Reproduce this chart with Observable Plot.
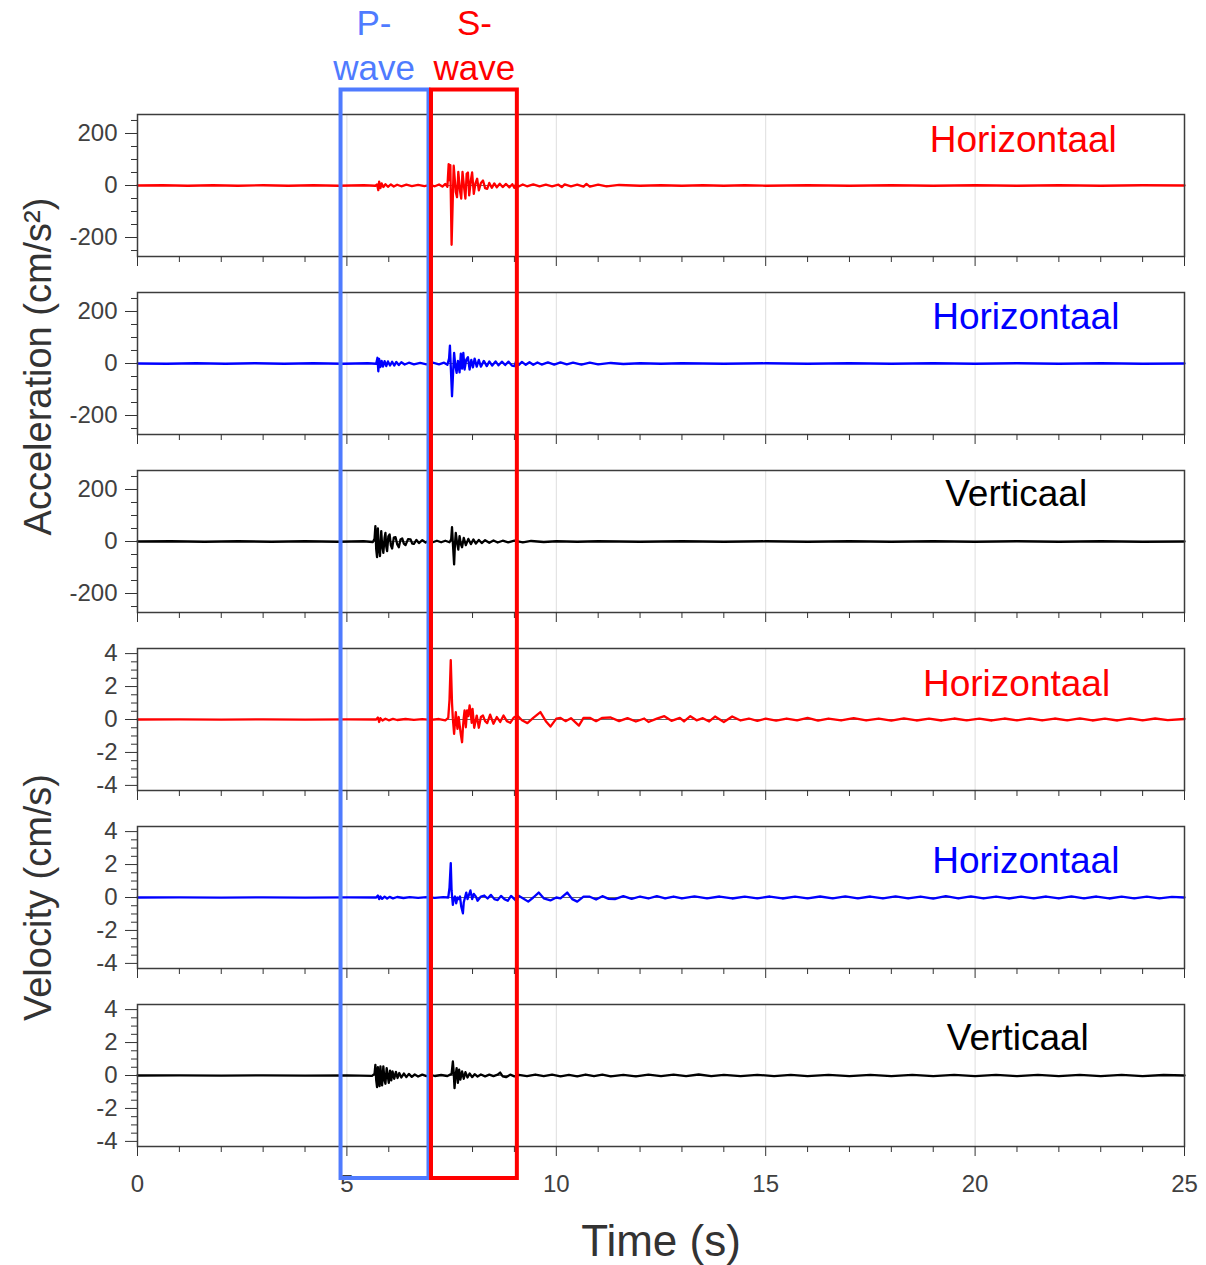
<!DOCTYPE html>
<html>
<head>
<meta charset="utf-8">
<script src="https://cdn.jsdelivr.net/npm/d3@7"></script>
<script src="https://cdn.jsdelivr.net/npm/@observablehq/plot@0.6"></script>
<style>
  body { margin: 0; background: #fff; font-family: "Liberation Sans", Arial, sans-serif; }
  #chart { position: relative; width: 1206px; height: 1265px; background: #fff; }
  #chart svg { position: absolute; left: 0; }
</style>
</head>
<body>
<div id="chart"></div>
<script>
// ---- Axis ticks ----------------------------------------------------------
const timeMajor = [0, 5, 10, 15, 20, 25];
const timeMinor = [1, 2, 3, 4, 6, 7, 8, 9, 11, 12, 13, 14, 16, 17, 18, 19, 21, 22, 23, 24];
const timeGrid = [5, 10, 15, 20];
const accMajor = [-200, 0, 200];
const accMinor = [-250, -150, -100, -50, 50, 100, 150, 250];
const velMajor = [-4, -2, 0, 2, 4];
const velMinor = [-3.5, -3, -2.5, -1.5, -1, -0.5, 0.5, 1, 1.5, 2.5, 3, 3.5];

// ---- Phase windows (s) ---------------------------------------------------
const waveWindows = [
  {phase: "P", label: "P-\nwave", start: 4.86, end: 6.96},
  {phase: "S", label: "S-\nwave", start: 7.02, end: 9.07}
];

// ---- Acceleration records [time (s), cm/s²] ------------------------------
const accH1 = [
  [0,0],[0.6,1],[1.2,-1],[1.8,1],[2.4,-1],[3.0,1],[3.6,-1],[4.2,1],[4.8,-1],[5.4,1],[5.68,-1],
  [5.72,4],[5.75,-18],[5.77,15],[5.8,-10],[5.83,8],[5.87,-6],[5.92,5],[5.98,-5],[6.05,4],[6.12,-4],
  [6.2,3],[6.3,-3],[6.42,3],[6.55,-2],[6.7,2],[6.85,-2],[7.0,2],[7.1,-3],[7.2,4],[7.28,-4],[7.35,6],[7.4,-5],
  [7.43,82],[7.45,20],[7.47,78],[7.5,-228],[7.53,-40],[7.55,76],[7.6,-25],[7.63,-45],[7.66,52],[7.7,-20],
  [7.73,-50],[7.76,52],[7.8,-10],[7.83,-50],[7.86,45],[7.89,50],[7.92,-38],[7.96,20],[7.99,50],[8.03,-32],
  [8.07,8],[8.11,26],[8.15,-19],[8.2,10],[8.25,19],[8.3,-10],[8.35,-13],[8.4,10],[8.46,-9],[8.52,8],
  [8.58,-7],[8.65,7],[8.72,-6],[8.8,6],[8.88,-7],[8.95,5],[9.0,-9],[9.04,7],[9.1,-4],[9.2,4],[9.3,-3],
  [9.45,4],[9.6,-3],[9.75,3],[9.9,-3],[10.05,3],[10.13,-6],[10.2,4],[10.35,-3],[10.5,3],[10.65,-4],
  [10.72,6],[10.8,-4],[11.0,3],[11.2,-3],[11.5,2],[12,-1],[12.5,1],[13,-1],[13.5,1],[14,-1],[14.5,1],
  [15,-1],[16,1],[17,-1],[18,1],[19,-1],[20,1],[21,-1],[22,1],[23,-1],[24,1],[25,0]
];
const accH2 = [
  [0,0],[0.7,-1],[1.4,1],[2.1,-1],[2.8,1],[3.5,-1],[4.2,1],[4.9,-1],[5.5,1],[5.7,-1],
  [5.73,22],[5.75,-30],[5.77,18],[5.8,-14],[5.83,10],[5.86,-12],[5.9,9],[5.94,-10],[5.98,8],[6.03,-8],
  [6.08,7],[6.13,-8],[6.18,6],[6.24,-6],[6.3,5],[6.38,-4],[6.48,3],[6.6,-3],[6.75,2],[6.9,-3],[7.05,3],
  [7.2,-3],[7.32,3],[7.4,-5],
  [7.44,20],[7.46,69],[7.48,-10],[7.51,-126],[7.54,-20],[7.56,41],[7.59,-10],[7.62,-36],[7.65,10],
  [7.69,-34],[7.72,38],[7.75,-20],[7.78,41],[7.81,-23],[7.85,15],[7.89,24],[7.93,-23],[7.97,14],
  [8.01,-15],[8.05,19],[8.1,-12],[8.15,14],[8.2,-12],[8.27,10],[8.34,-10],[8.4,8],[8.47,-8],[8.55,8],
  [8.62,-7],[8.7,7],[8.78,-6],[8.86,7],[8.94,-8],[9.0,-10],[9.04,8],[9.1,-6],[9.18,6],[9.27,-5],
  [9.36,5],[9.45,-5],[9.55,4],[9.65,-4],[9.8,4],[9.95,-4],[10.1,4],[10.25,-3],[10.4,3],[10.6,-4],
  [10.8,3],[11,-3],[11.3,2],[11.6,-2],[12,1],[12.5,-1],[13,1],[14,-1],[15,1],[16,-1],[17,1],[18,-1],
  [19,1],[20,-1],[21,1],[22,-1],[23,1],[24,-1],[25,0]
];
const accV = [
  [0,0],[0.8,1],[1.6,-1],[2.4,1],[3.2,-1],[4,1],[4.8,-1],[5.4,1],[5.62,-2],
  [5.66,10],[5.68,59],[5.7,-30],[5.72,-60],[5.74,50],[5.76,-20],[5.79,-56],[5.82,40],[5.84,-10],
  [5.87,-44],[5.9,15],[5.92,33],[5.94,-20],[5.96,-37],[5.99,20],[6.02,27],[6.05,-15],[6.08,-27],
  [6.12,15],[6.16,17],[6.2,-10],[6.24,-22],[6.28,8],[6.32,12],[6.36,-8],[6.4,-14],[6.46,9],[6.52,8],
  [6.56,-8],[6.6,-9],[6.66,6],[6.72,-6],[6.8,5],[6.88,-4],[6.96,4],[7.05,-3],[7.15,3],[7.25,-3],
  [7.35,3],[7.45,-3],
  [7.49,8],[7.51,55],[7.53,-5],[7.56,-88],[7.58,-10],[7.6,33],[7.63,-5],[7.66,-31],[7.69,21],[7.72,-10],
  [7.75,-22],[7.79,14],[7.84,-14],[7.9,10],[7.96,-10],[8.02,8],[8.08,-8],[8.15,6],[8.22,-6],[8.3,5],
  [8.4,-5],[8.5,4],[8.6,-4],[8.72,3],[8.85,-3],[9,3],[9.2,-3],[9.4,2],[9.7,-2],[10,1],[10.5,-1],[11,1],
  [12,-1],[13,1],[14,-1],[15,1],[16,-1],[17,1],[18,-1],[19,1],[20,-1],[21,1],[22,-1],[23,1],[24,-1],[25,0]
];

// ---- Velocity records [time (s), cm/s] -----------------------------------
const velH1 = [
  [0,0],[1,0.01],[2,-0.01],[3,0.01],[4,-0.01],[5,0.01],[5.7,0],[5.74,0.12],[5.77,-0.15],[5.8,0.08],
  [5.85,-0.06],[5.92,0.05],[6,-0.05],[6.1,0.04],[6.2,-0.03],[6.4,0.03],[6.6,-0.02],[6.8,0.02],[7.0,-0.02],
  [7.2,0.03],[7.35,-0.05],[7.42,0.1],
  [7.45,1.2],[7.48,3.6],[7.51,1.0],[7.53,0.05],[7.56,-0.87],[7.58,-0.2],[7.6,0.45],[7.62,-0.1],
  [7.64,-0.57],[7.67,0.15],[7.69,-0.3],[7.72,-0.9],[7.75,-1.38],[7.77,-0.5],[7.79,0.1],[7.81,0.55],
  [7.84,-0.47],[7.87,0.55],[7.9,0.2],[7.93,0.85],[7.96,0.3],[7.98,-0.2],[8.0,0.65],[8.04,-0.5],
  [8.1,0.24],[8.15,-0.5],[8.2,0.15],[8.25,0.24],[8.3,-0.1],[8.35,-0.22],[8.42,0.3],[8.5,-0.26],
  [8.58,0.15],[8.66,-0.15],[8.74,0.24],[8.82,-0.1],[8.9,-0.2],[8.98,0.1],[9.07,0.24],[9.18,-0.05],
  [9.31,-0.22],[9.45,0.1],[9.62,0.45],[9.75,-0.1],[9.86,-0.43],[10.0,0.05],[10.1,0.1],[10.22,-0.1],
  [10.35,0.08],[10.54,-0.37],[10.65,0.1],[10.8,0.1],[10.95,-0.1],[11.1,0.1],[11.3,0.12],[11.5,-0.1],
  [11.7,0.08],[11.9,-0.12],[12.1,0.06],[12.2,-0.15],[12.4,0.05],[12.58,0.2],[12.75,-0.08],[12.95,0.1],
  [13.05,-0.12],[13.2,0.2],[13.35,-0.05],[13.5,0.08],[13.65,-0.12],[13.79,0.18],[14.0,-0.15],[14.2,0.18],
  [14.4,-0.06],[14.6,0.06],[14.8,-0.08],[15.0,0.05],[15.25,-0.07],[15.5,0.06],[15.75,-0.05],[16.0,0.1],
  [16.25,-0.07],[16.5,0.06],[16.8,-0.06],[17.1,0.08],[17.4,-0.06],[17.7,0.06],[18,-0.07],[18.3,0.07],
  [18.6,-0.06],[18.9,0.05],[19.2,-0.06],[19.5,0.06],[19.8,-0.05],[20.1,0.05],[20.4,-0.06],[20.7,0.06],
  [21,-0.05],[21.3,0.07],[21.6,-0.06],[21.9,0.06],[22.2,-0.05],[22.5,0.07],[22.8,-0.06],[23.1,0.05],
  [23.4,-0.06],[23.7,0.07],[24,-0.05],[24.3,0.06],[24.6,-0.04],[25,0.03]
];
const velH2 = [
  [0,0],[1,0.01],[2,-0.01],[3,0.01],[4,-0.01],[5,0.01],[5.7,0],[5.74,0.12],[5.77,-0.1],[5.8,0.06],
  [5.84,-0.08],[5.9,0.05],[5.96,-0.06],[6.02,0.04],[6.1,-0.05],[6.2,0.03],[6.35,-0.03],[6.5,0.02],
  [6.7,-0.02],[6.9,0.02],[7.1,-0.02],[7.3,0.02],[7.42,0],
  [7.45,0.6],[7.48,2.09],[7.5,0.4],[7.53,-0.45],[7.55,-0.1],[7.58,0.06],[7.61,-0.35],[7.64,0],
  [7.67,-0.1],[7.7,0.06],[7.73,-0.55],[7.77,-0.96],[7.79,-0.3],[7.82,0],[7.85,0.3],[7.88,-0.1],
  [7.92,0.2],[7.95,0.43],[7.99,-0.1],[8.03,0.22],[8.08,0.05],[8.12,-0.2],[8.2,0.06],[8.28,0.12],
  [8.36,-0.06],[8.44,0.16],[8.52,-0.1],[8.6,-0.16],[8.68,0.1],[8.76,-0.1],[8.84,-0.2],[8.92,0.1],
  [9.0,-0.1],[9.05,-0.22],[9.1,0.1],[9.2,-0.05],[9.33,-0.25],[9.45,0],[9.58,0.3],[9.7,-0.05],
  [9.86,-0.18],[10.0,0],[10.1,-0.05],[10.26,0.3],[10.38,-0.1],[10.5,-0.25],[10.65,0.05],[10.8,0.05],
  [10.95,-0.12],[11.1,0.08],[11.25,-0.08],[11.4,-0.1],[11.6,0.08],[11.8,-0.08],[12.0,0.06],[12.2,-0.06],
  [12.4,0.08],[12.6,-0.05],[12.8,0.06],[13,-0.06],[13.3,0.07],[13.6,-0.05],[13.9,0.06],[14.2,-0.06],
  [14.5,0.05],[14.8,-0.05],[15.1,0.06],[15.4,-0.06],[15.7,0.05],[16,-0.05],[16.3,0.06],[16.6,-0.05],
  [16.9,0.07],[17.2,-0.05],[17.5,0.06],[17.8,-0.06],[18.1,0.07],[18.4,-0.06],[18.7,0.06],[19,-0.07],
  [19.3,0.08],[19.6,-0.06],[19.9,0.07],[20.2,-0.06],[20.5,0.06],[20.8,-0.06],[21.1,0.05],[21.4,-0.05],
  [21.7,0.06],[22,-0.06],[22.3,0.07],[22.6,-0.05],[22.9,0.06],[23.2,-0.06],[23.5,0.05],[23.8,-0.05],
  [24.1,0.05],[24.4,-0.05],[24.7,0.04],[25,0]
];
const velV = [
  [0,0],[1,0.01],[2,-0.01],[3,0.01],[4,-0.01],[5,0.01],[5.6,-0.02],
  [5.66,0.1],[5.68,0.65],[5.7,-0.3],[5.72,-0.71],[5.74,0.5],[5.76,-0.2],[5.78,-0.65],[5.8,0.55],
  [5.82,-0.1],[5.84,-0.6],[5.87,0.55],[5.9,-0.3],[5.92,-0.5],[5.95,0.45],[5.98,-0.1],[6.0,-0.45],
  [6.03,0.3],[6.06,-0.3],[6.09,0.25],[6.13,-0.2],[6.17,0.22],[6.21,-0.15],[6.25,0.15],[6.3,-0.12],
  [6.36,0.12],[6.42,-0.1],[6.48,0.1],[6.55,-0.08],[6.62,0.06],[6.7,-0.06],[6.8,0.05],[6.9,-0.04],
  [7.0,0.04],[7.1,-0.03],[7.25,0.03],[7.4,-0.03],
  [7.5,0.1],[7.53,0.85],[7.55,0.2],[7.57,-0.77],[7.59,-0.1],[7.62,0.45],[7.65,-0.45],[7.68,0.35],
  [7.71,-0.25],[7.75,0.25],[7.79,-0.2],[7.83,0.2],[7.88,-0.12],[7.93,0.12],[7.99,-0.1],[8.05,0.08],
  [8.12,-0.06],[8.2,0.06],[8.3,-0.05],[8.4,0.05],[8.5,-0.04],[8.6,0.05],[8.66,0.18],[8.72,-0.05],
  [8.8,-0.1],[8.9,0.05],[9.0,-0.05],[9.1,0.04],[9.3,-0.04],[9.5,0.06],[9.7,-0.04],[9.9,0.05],
  [10.1,-0.05],[10.3,0.04],[10.5,-0.05],[10.7,0.06],[10.9,-0.04],[11.1,0.05],[11.3,-0.05],[11.6,0.04],
  [11.9,-0.05],[12.2,0.05],[12.5,-0.04],[12.8,0.05],[13.1,-0.04],[13.4,0.06],[13.7,-0.04],[14,0.04],
  [14.4,-0.04],[14.8,0.04],[15.2,-0.04],[15.6,0.04],[16,-0.04],[16.5,0.04],[17,-0.04],[17.5,0.04],
  [18,-0.04],[18.5,0.04],[19,-0.04],[19.5,0.04],[20,-0.04],[20.5,0.04],[21,-0.04],[21.5,0.04],
  [22,-0.04],[22.5,0.04],[23,-0.04],[23.5,0.04],[24,-0.04],[24.5,0.03],[25,0]
];

// ---- Layout --------------------------------------------------------------
const W = 1206, ML = 137, MR = 22;
const FRAME_H = 142, MT = 10, MB = 26, STEP = 178, FIRST_TOP = 104;
const FONT = "'Liberation Sans', Arial, sans-serif";
const RED = "#ff0000", BLUE = "#0000ff", BLACK = "#000000", PBLUE = "#4f7bff";
const accDomain = [-273, 273], velDomain = [-4.31, 4.31];

const panels = [
  {series: accH1, color: RED,   name: "Horizontaal", at: [21.15, 173],  domain: accDomain, major: accMajor, minor: accMinor},
  {series: accH2, color: BLUE,  name: "Horizontaal", at: [21.21, 177],  domain: accDomain, major: accMajor, minor: accMinor,
   yTitle: "Acceleration (cm/s²)", yTitleShift: 3},
  {series: accV,  color: BLACK, name: "Verticaal",   at: [20.98, 181],  domain: accDomain, major: accMajor, minor: accMinor},
  {series: velH1, color: RED,   name: "Horizontaal", at: [20.99, 2.13], domain: velDomain, major: velMajor, minor: velMinor},
  {series: velH2, color: BLUE,  name: "Horizontaal", at: [21.21, 2.19], domain: velDomain, major: velMajor, minor: velMinor,
   yTitle: "Velocity (cm/s)", yTitleShift: 0},
  {series: velV,  color: BLACK, name: "Verticaal",   at: [21.02, 2.25], domain: velDomain, major: velMajor, minor: velMinor}
];

const chart = document.getElementById("chart");
const TOTAL_H = 1265;

panels.forEach((p, i) => {
  const last = i === panels.length - 1;
  const top = FIRST_TOP + STEP * i;
  const height = last ? TOTAL_H - top : MT + FRAME_H + MB;
  const marks = [
    Plot.gridX(timeGrid, {stroke: "#dedede", strokeOpacity: 1, strokeWidth: 1}),
    Plot.ruleY([0], {stroke: "#666", strokeWidth: 1}),
    Plot.line(p.series, {x: d => d[0], y: d => d[1], stroke: p.color, strokeWidth: 2.3, strokeLinejoin: "round"}),
    Plot.frame({stroke: "#3c3c3c", strokeWidth: 1.5}),
    Plot.axisY(p.minor, {tickSize: 6, stroke: "#333", fill: "none", label: null}),
    Plot.axisY(p.major, {tickSize: 12, tickPadding: 8, stroke: "#333", fill: "#404040", fontSize: 24,
      tickFormat: d => String(d), label: null}),
    Plot.axisX(timeMinor, {tickSize: 6, stroke: "#333", fill: "none", label: null}),
    Plot.axisX(timeMajor, {tickSize: 10, tickPadding: 18, stroke: "#333", fill: last ? "#404040" : "none",
      fontSize: 24, tickFormat: d => String(d), label: null}),
    Plot.text([{t: p.at[0], v: p.at[1], label: p.name}], {x: "t", y: "v", text: "label", fill: p.color,
      fontSize: 37, fontFamily: FONT})
  ];
  if (p.yTitle) {
    marks.push(Plot.text([p.yTitle], {text: d => d, frameAnchor: "left", textAnchor: "middle", rotate: -90,
      dx: -99, dy: p.yTitleShift, fontSize: 38, fill: "#333", fontFamily: FONT}));
  }
  if (last) {
    marks.push(Plot.text(["Time (s)"], {text: d => d, frameAnchor: "bottom", dy: 109,
      fontSize: 44, fill: "#333", fontFamily: FONT}));
  }
  const svg = Plot.plot({
    width: W, height,
    marginLeft: ML, marginRight: MR, marginTop: MT, marginBottom: height - MT - FRAME_H,
    x: {domain: [0, 25]},
    y: {domain: p.domain},
    style: {background: "transparent", overflow: "visible", fontFamily: FONT},
    marks
  });
  svg.style.top = top + "px";
  chart.appendChild(svg);
});

// Phase windows drawn across all six panels
const overlay = Plot.plot({
  width: W, height: TOTAL_H,
  marginLeft: ML, marginRight: MR, marginTop: 89.5, marginBottom: TOTAL_H - 1178,
  x: {domain: [0, 25], axis: null},
  color: {domain: ["P", "S"], range: [PBLUE, RED]},
  style: {background: "transparent", overflow: "visible", fontFamily: FONT},
  marks: [
    Plot.rect(waveWindows, {x1: "start", x2: "end", stroke: "phase", fill: "none", strokeWidth: 4}),
    Plot.text(waveWindows, {filter: d => d.phase === "P", x: d => (d.start + d.end) / 2, text: "label",
      fill: "phase", frameAnchor: "top", lineAnchor: "bottom", dy: -10, dx: -11, fontSize: 35, lineHeight: 1.29}),
    Plot.text(waveWindows, {filter: d => d.phase === "S", x: d => (d.start + d.end) / 2, text: "label",
      fill: "phase", frameAnchor: "top", lineAnchor: "bottom", dy: -10, fontSize: 35, lineHeight: 1.29})
  ]
});
overlay.style.top = "0px";
overlay.style.pointerEvents = "none";
chart.appendChild(overlay);
</script>
</body>
</html>
